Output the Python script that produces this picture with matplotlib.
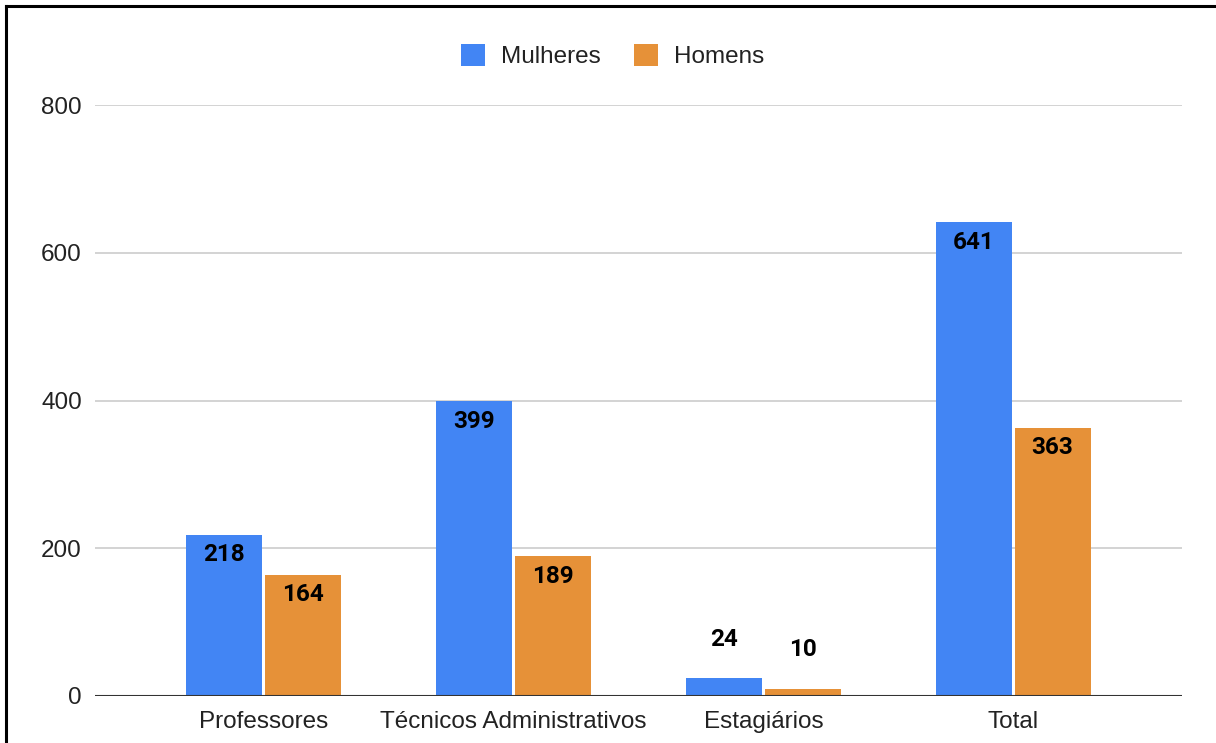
import matplotlib.pyplot as plt
import numpy as np
from matplotlib.lines import Line2D

categorias = ['Professores', 'Técnicos Administrativos', 'Estagiários', 'Total']
mulheres = [218, 399, 24, 641]
homens = [164, 189, 10, 363]
yticks = [0, 200, 400, 600, 800]

plt.rcParams['font.family'] = ['Liberation Sans', 'DejaVu Sans']

fig = plt.figure(figsize=(12.16, 7.43), dpi=100)
ax = fig.add_axes([95 / 1216, 1 - 696 / 743, 1087 / 1216, 591 / 743])

x = np.arange(len(categorias))
w = 0.304
b1 = ax.bar(x - 0.158, mulheres, w, color='#4285F4', label='Mulheres', zorder=3)
b2 = ax.bar(x + 0.158, homens, w, color='#E69138', label='Homens', zorder=3)

# labels go inside the bar when there's room, above it otherwise
for bars in (b1, b2):
    for r in bars:
        v = r.get_height()
        cx = r.get_x() + r.get_width() / 2
        dy = -20 if v > 50 else 39
        ax.annotate(str(v), (cx, v), xytext=(0, dy), textcoords='offset pixels',
                    ha='center', va='center', fontsize=17.5, fontweight='bold',
                    family=['Roboto', 'DejaVu Sans'], zorder=4)

ax.set_xlim(-0.676, 3.676)
ax.set_ylim(0, 800)
ax.set_yticks(yticks)
ax.set_xticks(x)
ax.set_xticklabels(categorias)
ax.tick_params(axis='both', length=0, labelsize=17.5, colors='#222222')
ax.tick_params(axis='y', pad=9.5)
ax.tick_params(axis='x', pad=11)
ax.grid(axis='y', color='#cccccc', linewidth=1.2, zorder=0)
ax.axhline(0, color='#333333', linewidth=1.5, zorder=5)
for s in ax.spines.values():
    s.set_visible(False)

ax.legend(loc='lower center', bbox_to_anchor=(0.476, 1.025), ncol=2, frameon=False,
          fontsize=17.5, handlelength=1.0, handleheight=1.0, columnspacing=1.35,
          handletextpad=0.65, labelcolor='#222222')

# frame lines on the left and top of the figure
fig.add_artist(Line2D([6 / 1216, 6 / 1216], [0, 1 - 6 / 743], color='black', lw=2.2,
                      transform=fig.transFigure))
fig.add_artist(Line2D([6 / 1216, 1], [1 - 6 / 743, 1 - 6 / 743], color='black', lw=2.2,
                      transform=fig.transFigure))

fig.savefig('out.png', dpi=100)
